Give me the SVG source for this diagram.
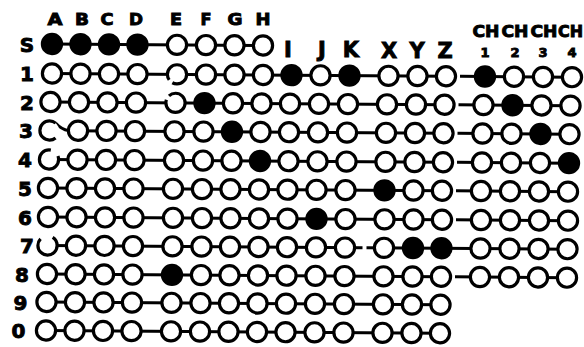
<svg xmlns="http://www.w3.org/2000/svg" xmlns:xlink="http://www.w3.org/1999/xlink" width="584" height="347" viewBox="0 0 584 347">
<style>
.e{fill:#fff;stroke:#000;stroke-width:3.2}
.f{fill:#000;stroke:#000;stroke-width:3.2}
.c{stroke:#000;stroke-width:3;fill:none}
text{font-family:"DejaVu Sans","Liberation Sans",sans-serif;font-weight:bold;fill:#000;stroke:#000;stroke-width:0.9;text-anchor:middle}
.h{font-size:15.5px}
.r{font-size:20px}
.b{font-size:21px}
.ch{font-size:16px}
.n{font-size:13px}
</style>
<defs>
<circle id="o" class="e" r="9.6"/>
<circle id="x" class="f" r="9.6"/>
</defs>
<rect width="584" height="347" fill="#fff"/>

<g id="labels">
<text class="h" x="55" y="25" textLength="15" lengthAdjust="spacingAndGlyphs">A</text>
<text class="h" x="82" y="25" textLength="14" lengthAdjust="spacingAndGlyphs">B</text>
<text class="h" x="107" y="25" textLength="13" lengthAdjust="spacingAndGlyphs">C</text>
<text class="h" x="136" y="25" textLength="14" lengthAdjust="spacingAndGlyphs">D</text>
<text class="h" x="176" y="25" textLength="12" lengthAdjust="spacingAndGlyphs">E</text>
<text class="h" x="206" y="25" textLength="11" lengthAdjust="spacingAndGlyphs">F</text>
<text class="h" x="235" y="25" textLength="15" lengthAdjust="spacingAndGlyphs">G</text>
<text class="h" x="263" y="25" textLength="15" lengthAdjust="spacingAndGlyphs">H</text>
<text class="b" x="288" y="57">I</text>
<text class="b" x="322" y="57">J</text>
<text class="b" x="351" y="57">K</text>
<text class="b" x="389" y="58">X</text>
<text class="b" x="417" y="58">Y</text>
<text class="b" x="445" y="58">Z</text>
<text class="ch" x="486" y="37" textLength="27" lengthAdjust="spacingAndGlyphs">CH</text>
<text class="ch" x="515" y="37" textLength="27" lengthAdjust="spacingAndGlyphs">CH</text>
<text class="ch" x="544" y="37" textLength="27" lengthAdjust="spacingAndGlyphs">CH</text>
<text class="ch" x="570.5" y="37" textLength="25" lengthAdjust="spacingAndGlyphs">CH</text>
<text class="n" x="485" y="57">1</text>
<text class="n" x="515" y="57">2</text>
<text class="n" x="543" y="57">3</text>
<text class="n" x="572" y="57">4</text>
<text class="r" x="27" y="51.5">S</text>
<text class="r" x="27" y="81">1</text>
<text class="r" x="27" y="109.5">2</text>
<text class="r" x="26" y="138">3</text>
<text class="r" x="25" y="167">4</text>
<text class="r" x="25" y="195.5">5</text>
<text class="r" x="25" y="224.5">6</text>
<text class="r" x="27" y="253">7</text>
<text class="r" x="22" y="281.5">8</text>
<text class="r" x="20.5" y="309.5">9</text>
<text class="r" x="18.5" y="338">0</text>
</g>

<g id="connectors">
<line class="c" x1="52" y1="0" x2="263" y2="0" transform="translate(0,44) rotate(0.4,52,0)"/>
<g transform="translate(0,73.5) rotate(0.4,52,0)"><line class="c" x1="52" y1="0" x2="446" y2="0"/><line class="c" x1="460" y1="0" x2="572" y2="0"/></g>
<g transform="translate(-1.5,102) rotate(0.4,52,0)"><line class="c" x1="52" y1="0" x2="446" y2="0"/><line class="c" x1="460" y1="0" x2="572" y2="0"/></g>
<g transform="translate(-2.5,130.5) rotate(0.4,52,0)"><path class="c" d="M58,-7.5 Q64,-1 71,0"/><line class="c" x1="71" y1="0" x2="446" y2="0"/><line class="c" x1="460" y1="0" x2="572" y2="0"/></g>
<g transform="translate(-3,159.5) rotate(0.4,52,0)"><line class="c" x1="52" y1="0" x2="446" y2="0"/><line class="c" x1="460" y1="0" x2="572" y2="0"/></g>
<g transform="translate(-4,188) rotate(0.4,52,0)"><line class="c" x1="52" y1="0" x2="446" y2="0"/><line class="c" x1="460" y1="0" x2="572" y2="0"/></g>
<g transform="translate(-4,217) rotate(0.4,52,0)"><line class="c" x1="52" y1="0" x2="446" y2="0"/><line class="c" x1="460" y1="0" x2="572" y2="0"/></g>
<g transform="translate(-4.5,245.5) rotate(0.4,52,0)"><line class="c" x1="52" y1="0" x2="367" y2="0"/><line class="c" x1="371" y1="0" x2="572" y2="0"/></g>
<g transform="translate(-5,274) rotate(0.4,52,0)"><line class="c" x1="52" y1="0" x2="446" y2="0"/><line class="c" x1="460" y1="0" x2="572" y2="0"/></g>
<g transform="translate(-5.5,302) rotate(0.4,52,0)"><line class="c" x1="52" y1="0" x2="446" y2="0"/></g>
<g transform="translate(-6,330.5) rotate(0.4,52,0)"><line class="c" x1="52" y1="0" x2="446" y2="0"/></g>
</g>

<g id="row-S" transform="translate(0,44) rotate(0.4,52,0)">
<use href="#x" x="52"/><use href="#x" x="80.5"/><use href="#x" x="109"/><use href="#x" x="137.5"/>
<use href="#o" x="177"/><use href="#o" x="206"/><use href="#o" x="234.5"/><use href="#o" x="263"/>
</g>

<g id="row-1" transform="translate(0,73.5) rotate(0.4,52,0)">
<use href="#o" x="52"/><use href="#o" x="80.5"/><use href="#o" x="109"/><use href="#o" x="137.5"/>
<circle class="e" cx="177" r="9.6" pathLength="100" stroke-dasharray="33 7 60"/><use href="#o" x="206"/><use href="#o" x="234.5"/><use href="#o" x="263"/>
<use href="#x" x="291.5"/><use href="#o" x="320.5"/><use href="#x" x="349.5"/>
<use href="#o" x="388.5"/><use href="#o" x="417.5"/><use href="#o" x="446"/>
<use href="#x" x="485"/><use href="#o" x="514"/><use href="#o" x="543"/><use href="#o" x="572"/>
</g>

<g id="row-2" transform="translate(-1.5,102) rotate(0.4,52,0)">
<use href="#o" x="52"/><use href="#o" x="80.5"/><use href="#o" x="109"/><use href="#o" x="137.5"/>
<circle class="e" cx="177" r="9.6" pathLength="100" stroke-dasharray="55 8 37"/><use href="#x" x="206"/><use href="#o" x="234.5"/><use href="#o" x="263"/>
<use href="#o" x="291.5"/><use href="#o" x="320.5"/><use href="#o" x="349.5"/>
<use href="#o" x="388.5"/><use href="#o" x="417.5"/><use href="#o" x="446"/>
<use href="#o" x="485"/><use href="#x" x="514"/><use href="#o" x="543"/><use href="#o" x="572"/>
</g>

<g id="row-3" transform="translate(-2.5,130.5) rotate(0.4,52,0)">
<circle class="e" cx="52" r="9.6" pathLength="100" stroke-dasharray="0 14 72 14"/><use href="#o" x="80.5"/><use href="#o" x="109"/><use href="#o" x="137.5"/>
<use href="#o" x="177"/><use href="#o" x="206"/><use href="#x" x="234.5"/><use href="#o" x="263"/>
<use href="#o" x="291.5"/><use href="#o" x="320.5"/><use href="#o" x="349.5"/>
<use href="#o" x="388.5"/><use href="#o" x="417.5"/><use href="#o" x="446"/>
<use href="#o" x="485"/><use href="#o" x="514"/><use href="#x" x="543"/><use href="#o" x="572"/>
</g>

<g id="row-4" transform="translate(-3,159.5) rotate(0.4,52,0)">
<circle class="e" cx="52" r="9.6" pathLength="100" stroke-dasharray="78 16 100"/><use href="#o" x="80.5"/><use href="#o" x="109"/><use href="#o" x="137.5"/>
<use href="#o" x="177"/><use href="#o" x="206"/><use href="#o" x="234.5"/><use href="#x" x="263"/>
<use href="#o" x="291.5"/><use href="#o" x="320.5"/><use href="#o" x="349.5"/>
<use href="#o" x="388.5"/><use href="#o" x="417.5"/><use href="#o" x="446"/>
<use href="#o" x="485"/><use href="#o" x="514"/><use href="#o" x="543"/><use href="#x" x="572"/>
</g>

<g id="row-5" transform="translate(-4,188) rotate(0.4,52,0)">
<use href="#o" x="52"/><use href="#o" x="80.5"/><use href="#o" x="109"/><use href="#o" x="137.5"/>
<use href="#o" x="177"/><use href="#o" x="206"/><use href="#o" x="234.5"/><use href="#o" x="263"/>
<use href="#o" x="291.5"/><use href="#o" x="320.5"/><use href="#o" x="349.5"/>
<use href="#x" x="388.5"/><use href="#o" x="417.5"/><use href="#o" x="446"/>
<use href="#o" x="485"/><use href="#o" x="514"/><use href="#o" x="543"/><use href="#o" x="572"/>
</g>

<g id="row-6" transform="translate(-4,217) rotate(0.4,52,0)">
<use href="#o" x="52"/><use href="#o" x="80.5"/><use href="#o" x="109"/><use href="#o" x="137.5"/>
<use href="#o" x="177"/><use href="#o" x="206"/><use href="#o" x="234.5"/><use href="#o" x="263"/>
<use href="#o" x="291.5"/><use href="#x" x="320.5"/><use href="#o" x="349.5"/>
<use href="#o" x="388.5"/><use href="#o" x="417.5"/><use href="#o" x="446"/>
<use href="#o" x="485"/><use href="#o" x="514"/><use href="#o" x="543"/><use href="#o" x="572"/>
</g>

<g id="row-7" transform="translate(-4.5,245.5) rotate(0.4,52,0)">
<circle class="e" cx="52" r="9.6" pathLength="100" stroke-dasharray="62 22 16"/><use href="#o" x="80.5"/><use href="#o" x="109"/><use href="#o" x="137.5"/>
<use href="#o" x="177"/><use href="#o" x="206"/><use href="#o" x="234.5"/><use href="#o" x="263"/>
<use href="#o" x="291.5"/><use href="#o" x="320.5"/><use href="#o" x="349.5"/>
<use href="#o" x="388.5"/><use href="#x" x="417.5"/><use href="#x" x="446"/>
<use href="#o" x="485"/><use href="#o" x="514"/><use href="#o" x="543"/><use href="#o" x="572"/>
</g>

<g id="row-8" transform="translate(-5,274) rotate(0.4,52,0)">
<use href="#o" x="52"/><use href="#o" x="80.5"/><use href="#o" x="109"/><use href="#o" x="137.5"/>
<use href="#x" x="177"/><use href="#o" x="206"/><use href="#o" x="234.5"/><use href="#o" x="263"/>
<use href="#o" x="291.5"/><use href="#o" x="320.5"/><use href="#o" x="349.5"/>
<use href="#o" x="388.5"/><use href="#o" x="417.5"/><use href="#o" x="446"/>
<use href="#o" x="485"/><use href="#o" x="514"/><use href="#o" x="543"/><use href="#o" x="572"/>
</g>

<g id="row-9" transform="translate(-5.5,302) rotate(0.4,52,0)">
<use href="#o" x="52"/><use href="#o" x="80.5"/><use href="#o" x="109"/><use href="#o" x="137.5"/>
<use href="#o" x="177"/><use href="#o" x="206"/><use href="#o" x="234.5"/><use href="#o" x="263"/>
<use href="#o" x="291.5"/><use href="#o" x="320.5"/><use href="#o" x="349.5"/>
<use href="#o" x="388.5"/><use href="#o" x="417.5"/><use href="#o" x="446"/>
</g>

<g id="row-0" transform="translate(-6,330.5) rotate(0.4,52,0)">
<use href="#o" x="52"/><use href="#o" x="80.5"/><use href="#o" x="109"/><use href="#o" x="137.5"/>
<use href="#o" x="177"/><use href="#o" x="206"/><use href="#o" x="234.5"/><use href="#o" x="263"/>
<use href="#o" x="291.5"/><use href="#o" x="320.5"/><use href="#o" x="349.5"/>
<use href="#o" x="388.5"/><use href="#o" x="417.5"/><use href="#o" x="446"/>
</g>
</svg>
